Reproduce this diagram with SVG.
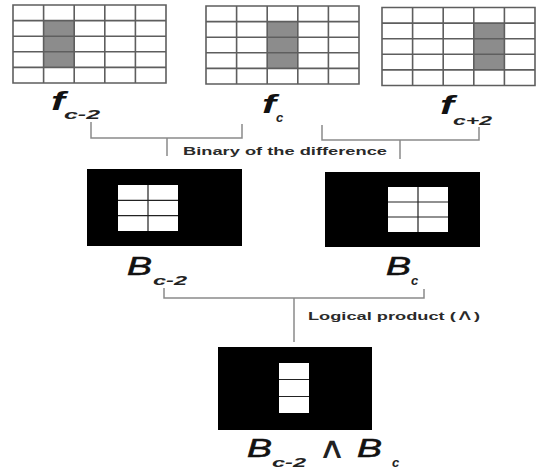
<svg xmlns="http://www.w3.org/2000/svg" width="537" height="471" viewBox="0 0 537 471">
<style>
.cell{fill:#fff;stroke:#6a6a6a;stroke-width:1.6}
.gl{fill:none;stroke:#5e5e5e;stroke-width:1.6}
.sh{fill:#8c8c8c}
.blk{fill:#000}
.win{fill:#fff}
.wl{stroke:#222;stroke-width:1.2;fill:none}
.br{fill:none;stroke:#8a8a8a;stroke-width:1.5}
.lab{font-family:"Liberation Sans",Arial,sans-serif;font-weight:bold;font-size:11px;fill:#2a2a2a}
.f{font-family:"Liberation Sans",Arial,sans-serif;font-style:italic;font-weight:bold;font-size:26px;fill:#111}
.B{font-family:"Liberation Sans",Arial,sans-serif;font-style:italic;font-size:26px;fill:#111;stroke:#111;stroke-width:0.6}
.sub{font-family:"Liberation Sans",Arial,sans-serif;font-style:italic;font-weight:bold;font-size:13px;fill:#222}
.and{font-family:"DejaVu Sans",sans-serif;font-size:30px;fill:#222}
</style>
<defs>
<path id="gl" class="gl" d="M0,0H153V78H0ZM30.6,0V78M61.2,0V78M91.8,0V78M122.4,0V78M0,15.6H153M0,31.2H153M0,46.8H153M0,62.4H153"/>
</defs>
<g id="frame1">
<rect fill="#fff" x="13" y="5" width="153" height="78"/>
<rect class="sh" x="43.6" y="20.6" width="30.6" height="46.8"/>
<use href="#gl" x="13" y="5"/>
<text class="f" x="51" y="110" textLength="14" lengthAdjust="spacingAndGlyphs">f</text>
<text class="sub" x="64" y="119" textLength="36" lengthAdjust="spacingAndGlyphs">c-2</text>
</g>
<g id="frame2">
<rect fill="#fff" x="206" y="6" width="153" height="78"/>
<rect class="sh" x="267.2" y="21.6" width="30.6" height="46.8"/>
<use href="#gl" x="206" y="6"/>
<text class="f" x="262" y="113" textLength="14" lengthAdjust="spacingAndGlyphs">f</text>
<text class="sub" x="276" y="122">c</text>
</g>
<g id="frame3">
<rect fill="#fff" x="382" y="7.5" width="153" height="78"/>
<rect class="sh" x="473.8" y="23.1" width="30.6" height="46.8"/>
<use href="#gl" x="382" y="7.5"/>
<text class="f" x="440" y="114" textLength="14" lengthAdjust="spacingAndGlyphs">f</text>
<text class="sub" x="453" y="125" textLength="39" lengthAdjust="spacingAndGlyphs">c+2</text>
</g>
<g id="B1">
<rect class="blk" x="87" y="169" width="155" height="77"/>
<rect class="win" x="118" y="185" width="60" height="46"/>
<path class="wl" d="M148,185V231M118,200.3H178M118,215.6H178"/>
<text class="B" x="127" y="275" textLength="25" lengthAdjust="spacingAndGlyphs">B</text>
<text class="sub" x="153" y="285" textLength="34" lengthAdjust="spacingAndGlyphs">c-2</text>
</g>
<g id="B2">
<rect class="blk" x="325" y="172" width="155" height="75"/>
<rect class="win" x="388" y="187" width="60" height="45"/>
<path class="wl" d="M418,187V232M388,202H448M388,217H448"/>
<text class="B" x="386" y="275" textLength="25" lengthAdjust="spacingAndGlyphs">B</text>
<text class="sub" x="411" y="285">c</text>
</g>
<g id="B3">
<rect class="blk" x="218" y="347" width="154" height="83"/>
<rect class="win" x="279" y="363" width="30" height="50"/>
<path class="wl" d="M279,379.5H309M279,396.5H309"/>
<text class="B" x="247" y="457" textLength="25" lengthAdjust="spacingAndGlyphs">B</text>
<text class="sub" x="272" y="467" textLength="34" lengthAdjust="spacingAndGlyphs">c-2</text>
<text class="and" x="318" y="458" textLength="28" lengthAdjust="spacingAndGlyphs">∧</text>
<text class="B" x="357" y="457" textLength="25" lengthAdjust="spacingAndGlyphs">B</text>
<text class="sub" x="392" y="467">c</text>
</g>
<g id="connectors">
<path class="br" d="M91,122V138H242V124M167,138V156"/>
<path class="br" d="M322,125V140H479V127M400,140V159"/>
<path class="br" d="M164,288V298H424V289M294,298V342"/>
<text class="lab" x="183" y="155" textLength="204" lengthAdjust="spacingAndGlyphs">Binary of the difference</text>
<text class="lab" x="308" y="320" textLength="172" lengthAdjust="spacingAndGlyphs">Logical product (<tspan font-family="DejaVu Sans" font-weight="normal" font-size="15px">∧</tspan>)</text>
</g>
</svg>
